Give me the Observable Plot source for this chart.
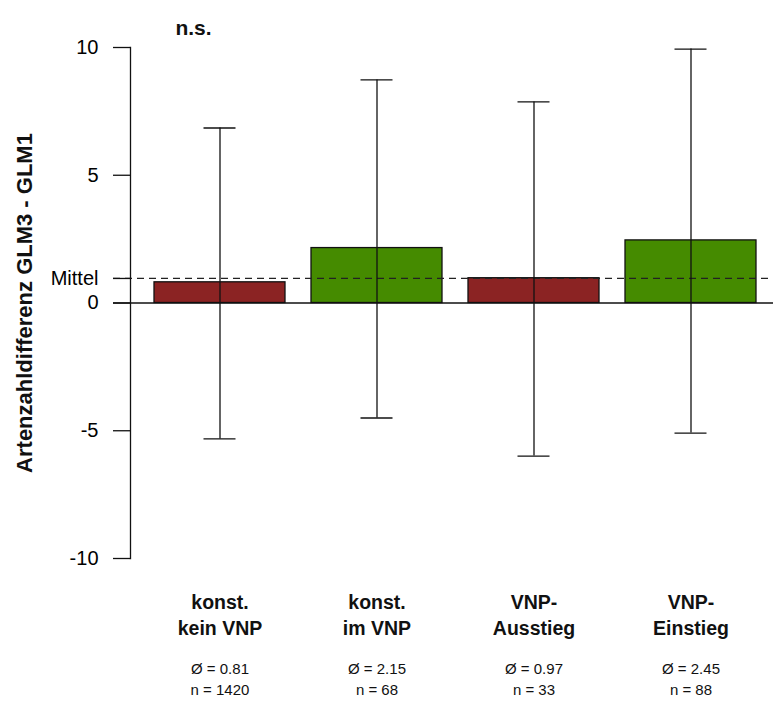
<!DOCTYPE html>
<html>
<head>
<meta charset="utf-8">
<script src="https://cdn.jsdelivr.net/npm/d3@7"></script>
<script src="https://cdn.jsdelivr.net/npm/@observablehq/plot@0.6"></script>
<style>
  html, body { margin: 0; padding: 0; background: #fff; }
  svg { font-family: "Liberation Sans", Arial, sans-serif; }
</style>
</head>
<body>
<div id="chart"></div>
<script>
const categories = ["k1", "k2", "v1", "v2"];
const labelLine1 = ["konst.", "konst.", "VNP-", "VNP-"];
const labelLine2 = ["kein VNP", "im VNP", "Ausstieg", "Einstieg"];
const means = [0.81, 2.15, 0.97, 2.45];
const counts = [1420, 68, 33, 88];
const upper = [6.85, 8.73, 7.87, 9.94];
const lower = [-5.32, -4.50, -5.99, -5.09];
const colors = ["#8B2323", "#458B00", "#8B2323", "#458B00"];
const overallMean = 0.96;
const yTicks = [-10, -5, 0, 5, 10];
const significance = "n.s.";
const yLabel = "Artenzahldifferenz GLM3 - GLM1";

const data = categories.map((c, i) => ({
  cat: c, l1: labelLine1[i], l2: labelLine2[i], mean: means[i], n: counts[i],
  hi: upper[i], lo: lower[i], color: colors[i]
}));

const chart = Plot.plot({
  width: 773,
  height: 701,
  marginLeft: 130,
  marginRight: 0,
  marginTop: 47,
  marginBottom: 143,
  style: { fontFamily: "'Liberation Sans', Arial, sans-serif", background: "#fff" },
  x: { domain: categories, range: [140.5, 768.5], paddingInner: 0.166, paddingOuter: 0.083, axis: null },
  y: { domain: [-10, 10], axis: null },
  marks: [
    Plot.barY(data, { x: "cat", y: "mean", fill: "color", stroke: "#111", strokeWidth: 1.3 }),
    Plot.ruleY([0], { stroke: "#111", strokeWidth: 1.3, insetLeft: -17 }),
    Plot.ruleY([overallMean], { stroke: "#222", strokeWidth: 1.3, strokeDasharray: "7,5", insetLeft: -17 }),
    Plot.ruleX(data, { x: "cat", y1: "lo", y2: "hi", stroke: "#111", strokeWidth: 1.3 }),
    Plot.tickY(data, { x: "cat", y: "hi", stroke: "#111", strokeWidth: 1.3, insetLeft: 49.5, insetRight: 49.5 }),
    Plot.tickY(data, { x: "cat", y: "lo", stroke: "#111", strokeWidth: 1.3, insetLeft: 49.5, insetRight: 49.5 }),
    Plot.frame({ anchor: "left", stroke: "#111", strokeWidth: 1.3 }),
    Plot.axisY({
      ticks: [...yTicks, overallMean],
      tickSize: 17,
      tickPadding: 15,
      fontSize: 20,
      stroke: "#111",
      strokeWidth: 1.3,
      tickFormat: d => d === overallMean ? "Mittel" : String(d),
      label: null
    }),
    Plot.text([yLabel], { frameAnchor: "left", textAnchor: "middle", rotate: -90, dx: -106, fontSize: 22, fontWeight: "bold", fill: "#111" }),
    Plot.text([significance], { frameAnchor: "top-left", textAnchor: "middle", dx: 63, dy: -27, fontSize: 21, fontWeight: "bold", fill: "#111" }),
    Plot.text(data, { x: "cat", text: "l1", frameAnchor: "bottom", dy: 50, fontSize: 19.5, fontWeight: "bold", fill: "#111" }),
    Plot.text(data, { x: "cat", text: "l2", frameAnchor: "bottom", dy: 76, fontSize: 19.5, fontWeight: "bold", fill: "#111" }),
    Plot.text(data, { x: "cat", text: d => `Ø = ${d.mean.toFixed(2)}`, frameAnchor: "bottom", dy: 115, fontSize: 15, fill: "#111" }),
    Plot.text(data, { x: "cat", text: d => `n = ${d.n}`, frameAnchor: "bottom", dy: 136, fontSize: 15, fill: "#111" })
  ]
});
document.getElementById("chart").appendChild(chart);
</script>
</body>
</html>
